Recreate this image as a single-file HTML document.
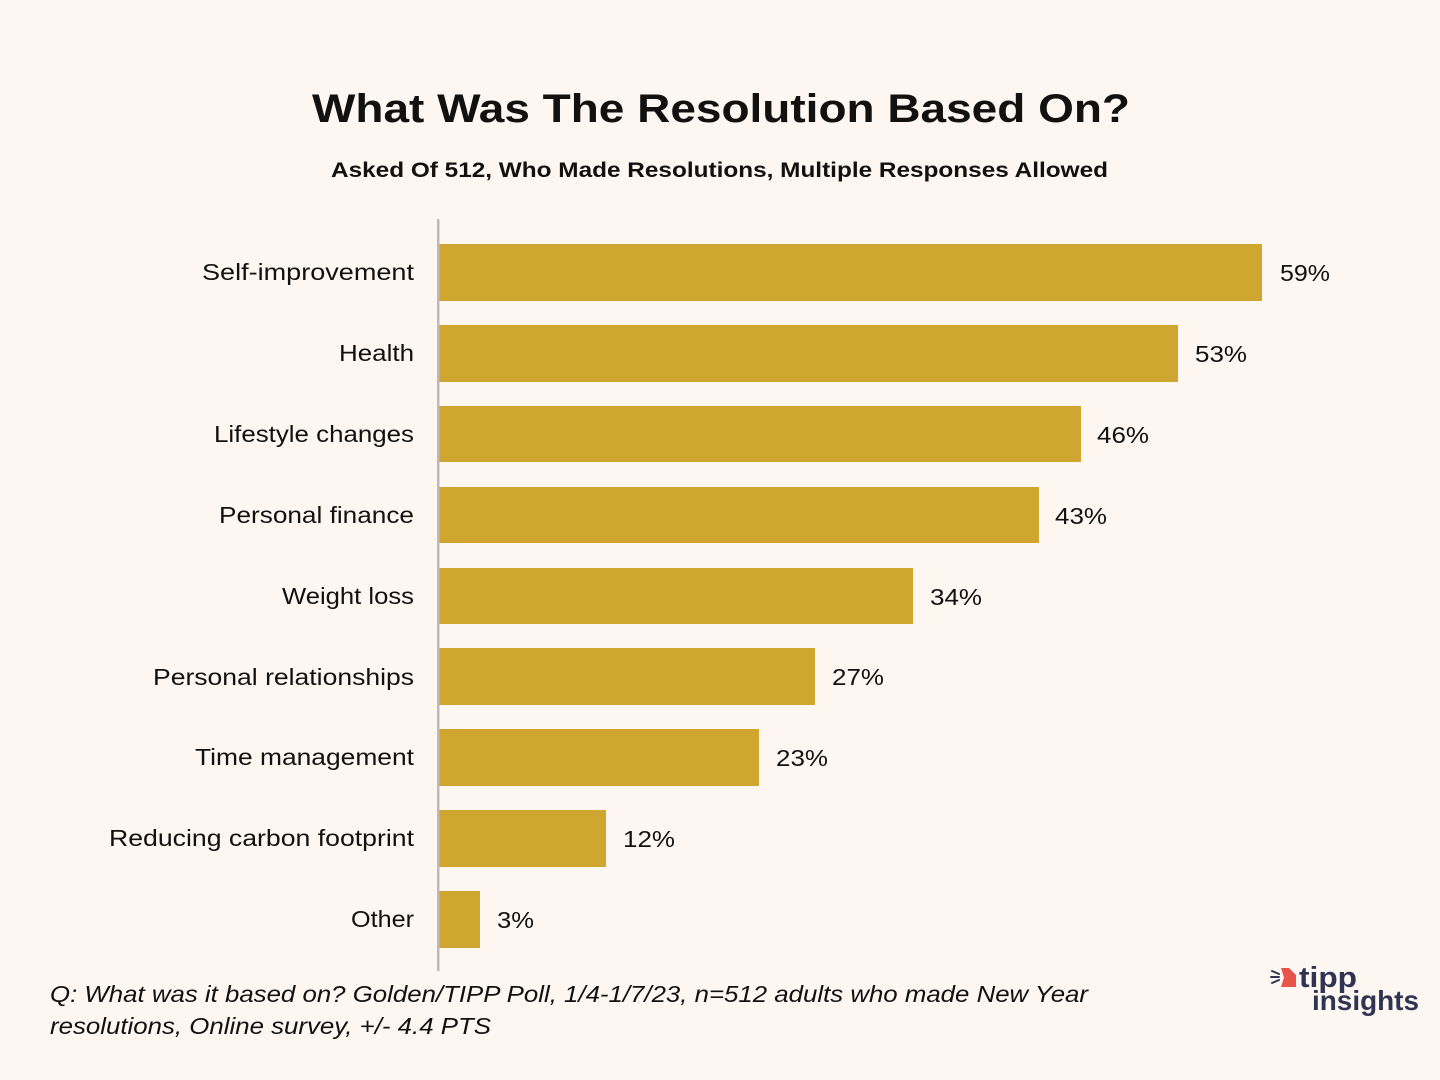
<!DOCTYPE html>
<html>
<head>
<meta charset="utf-8">
<style>
  html, body { margin: 0; padding: 0; background: #FDF6F1; }
  svg { display: block; }
  text { font-family: "Liberation Sans", Arial, sans-serif; fill: #111111; }
</style>
</head>
<body>
<svg width="1440" height="1080" viewBox="0 0 1440 1080" xmlns="http://www.w3.org/2000/svg">
  <rect x="0" y="0" width="1440" height="1080" fill="#FDF6F1"/>

  <!-- Title -->
  <text x="312" y="122" font-size="40" font-weight="bold" textLength="818" lengthAdjust="spacingAndGlyphs">What Was The Resolution Based On?</text>
  <text x="331" y="177" font-size="21" font-weight="bold" textLength="777" lengthAdjust="spacingAndGlyphs">Asked Of 512, Who Made Resolutions, Multiple Responses Allowed</text>

  <!-- Bars -->
  <g fill="#CFA730">
    <rect x="439" y="244" width="823" height="57"/>
    <rect x="439" y="325" width="739" height="57"/>
    <rect x="439" y="406" width="642" height="56"/>
    <rect x="439" y="487" width="600" height="56"/>
    <rect x="439" y="568" width="474" height="56"/>
    <rect x="439" y="648" width="376" height="57"/>
    <rect x="439" y="729" width="320" height="57"/>
    <rect x="439" y="810" width="167" height="57"/>
    <rect x="439" y="891" width="41" height="57"/>
  </g>

  <!-- Axis line -->
  <rect x="437" y="219" width="2.5" height="752" fill="#BDB9BD"/>

  <!-- Category labels -->
  <g font-size="23">
    <text x="202" y="280" textLength="212" lengthAdjust="spacingAndGlyphs">Self-improvement</text>
    <text x="339" y="361" textLength="75" lengthAdjust="spacingAndGlyphs">Health</text>
    <text x="214" y="442" textLength="200" lengthAdjust="spacingAndGlyphs">Lifestyle changes</text>
    <text x="219" y="523" textLength="195" lengthAdjust="spacingAndGlyphs">Personal finance</text>
    <text x="282" y="604" textLength="132" lengthAdjust="spacingAndGlyphs">Weight loss</text>
    <text x="153" y="685" textLength="261" lengthAdjust="spacingAndGlyphs">Personal relationships</text>
    <text x="195" y="765" textLength="219" lengthAdjust="spacingAndGlyphs">Time management</text>
    <text x="109" y="846" textLength="305" lengthAdjust="spacingAndGlyphs">Reducing carbon footprint</text>
    <text x="351" y="927" textLength="63" lengthAdjust="spacingAndGlyphs">Other</text>
  </g>

  <!-- Value labels -->
  <g font-size="23">
    <text x="1280" y="281" textLength="50" lengthAdjust="spacingAndGlyphs">59%</text>
    <text x="1195" y="362" textLength="52" lengthAdjust="spacingAndGlyphs">53%</text>
    <text x="1097" y="443" textLength="52" lengthAdjust="spacingAndGlyphs">46%</text>
    <text x="1055" y="524" textLength="52" lengthAdjust="spacingAndGlyphs">43%</text>
    <text x="930" y="605" textLength="52" lengthAdjust="spacingAndGlyphs">34%</text>
    <text x="832" y="685" textLength="52" lengthAdjust="spacingAndGlyphs">27%</text>
    <text x="776" y="766" textLength="52" lengthAdjust="spacingAndGlyphs">23%</text>
    <text x="623" y="847" textLength="52" lengthAdjust="spacingAndGlyphs">12%</text>
    <text x="497" y="928" textLength="37" lengthAdjust="spacingAndGlyphs">3%</text>
  </g>

  <!-- Footnote -->
  <g font-size="23" font-style="italic">
    <text x="50" y="1002" textLength="1038" lengthAdjust="spacingAndGlyphs">Q:  What was it based on? Golden/TIPP Poll, 1/4-1/7/23, n=512 adults who made New Year</text>
    <text x="50" y="1034" textLength="441" lengthAdjust="spacingAndGlyphs">resolutions, Online survey, +/- 4.4 PTS</text>
  </g>

  <!-- Logo -->
  <g>
    <g stroke="#2F3452" stroke-width="2" stroke-linecap="round">
      <line x1="1272" y1="971" x2="1279" y2="974"/>
      <line x1="1271" y1="977" x2="1279" y2="977"/>
      <line x1="1272" y1="983" x2="1279" y2="980"/>
    </g>
    <polygon points="1281,968 1296,968 1296,987 1281,987 1284,977.5" fill="#E8534A"/>
    <polygon points="1289,968 1296,968 1296,975" fill="#FDF6F1"/>
    <text x="1299" y="987" font-size="29" font-weight="bold" style="fill:#2F3452" textLength="58" lengthAdjust="spacingAndGlyphs">tipp</text>
    <text x="1312" y="1010" font-size="28" font-weight="bold" style="fill:#2F3452" textLength="107" lengthAdjust="spacingAndGlyphs">insights</text>
  </g>
</svg>
</body>
</html>
